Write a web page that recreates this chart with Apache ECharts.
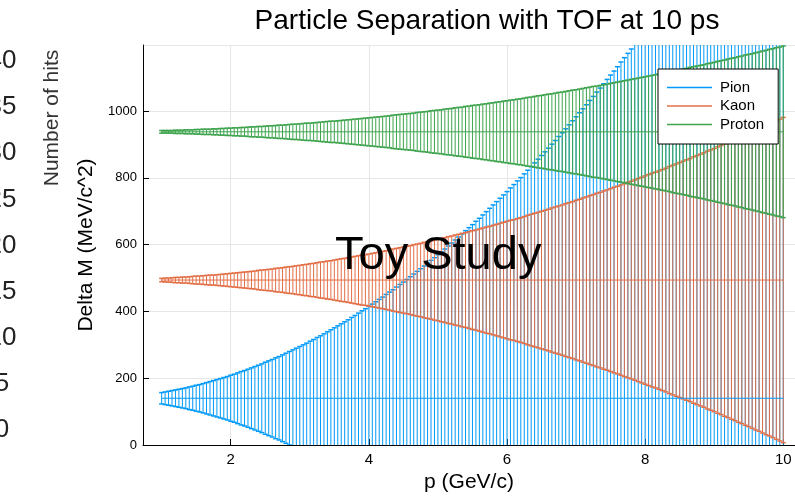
<!DOCTYPE html>
<html>
<head>
<meta charset="utf-8">
<script src="https://cdn.jsdelivr.net/npm/echarts@6/dist/echarts.min.js"></script>
<style>
  html, body { margin: 0; padding: 0; background: #fff; }
  #chart { width: 795px; height: 498px; }
</style>
</head>
<body>
<div id="chart"></div>
<script>
// momentum points (GeV/c)
const pVals = [
  1, 1.05, 1.1, 1.15, 1.2, 1.25, 1.3, 1.35, 1.4, 1.45, 1.5, 1.55, 1.6, 1.65, 1.7, 1.75, 1.8, 1.85, 1.9, 1.95,
  2, 2.05, 2.1, 2.15, 2.2, 2.25, 2.3, 2.35, 2.4, 2.45, 2.5, 2.55, 2.6, 2.65, 2.7, 2.75, 2.8, 2.85, 2.9, 2.95,
  3, 3.05, 3.1, 3.15, 3.2, 3.25, 3.3, 3.35, 3.4, 3.45, 3.5, 3.55, 3.6, 3.65, 3.7, 3.75, 3.8, 3.85, 3.9, 3.95,
  4, 4.05, 4.1, 4.15, 4.2, 4.25, 4.3, 4.35, 4.4, 4.45, 4.5, 4.55, 4.6, 4.65, 4.7, 4.75, 4.8, 4.85, 4.9, 4.95,
  5, 5.05, 5.1, 5.15, 5.2, 5.25, 5.3, 5.35, 5.4, 5.45, 5.5, 5.55, 5.6, 5.65, 5.7, 5.75, 5.8, 5.85, 5.9, 5.95,
  6, 6.05, 6.1, 6.15, 6.2, 6.25, 6.3, 6.35, 6.4, 6.45, 6.5, 6.55, 6.6, 6.65, 6.7, 6.75, 6.8, 6.85, 6.9, 6.95,
  7, 7.05, 7.1, 7.15, 7.2, 7.25, 7.3, 7.35, 7.4, 7.45, 7.5, 7.55, 7.6, 7.65, 7.7, 7.75, 7.8, 7.85, 7.9, 7.95,
  8, 8.05, 8.1, 8.15, 8.2, 8.25, 8.3, 8.35, 8.4, 8.45, 8.5, 8.55, 8.6, 8.65, 8.7, 8.75, 8.8, 8.85, 8.9, 8.95,
  9, 9.05, 9.1, 9.15, 9.2, 9.25, 9.3, 9.35, 9.4, 9.45, 9.5, 9.55, 9.6, 9.65, 9.7, 9.75, 9.8, 9.85, 9.9, 9.95,
  10
];

// half width of the error bar (MeV/c^2) at each p
const pionErr = [
  17, 19, 21, 23, 25, 27, 29, 31, 34, 36, 39, 41, 44, 47, 50, 53, 56, 59, 62, 65,
  69, 72, 76, 80, 83, 87, 91, 95, 99, 103, 108, 112, 116, 121, 125, 130, 135, 140, 145, 150,
  155, 160, 165, 171, 176, 182, 187, 193, 199, 205, 211, 217, 223, 229, 235, 242, 248, 255, 262, 268,
  275, 282, 289, 296, 303, 311, 318, 325, 333, 341, 348, 356, 364, 372, 380, 388, 396, 405, 413, 421,
  430, 439, 447, 456, 465, 474, 483, 492, 502, 511, 520, 530, 539, 549, 559, 569, 579, 589, 599, 609,
  619, 630, 640, 651, 661, 672, 683, 694, 705, 716, 727, 738, 749, 761, 772, 784, 795, 807, 819, 831,
  843, 855, 867, 879, 892, 904, 917, 929, 942, 955, 968, 980, 993, 1007, 1020, 1033, 1046, 1060, 1073, 1087,
  1101, 1115, 1128, 1142, 1157, 1171, 1185, 1199, 1214, 1228, 1243, 1257, 1272, 1287, 1302, 1317, 1332, 1347, 1362, 1378,
  1393, 1409, 1424, 1440, 1456, 1472, 1488, 1504, 1520, 1536, 1552, 1569, 1585, 1602, 1618, 1635, 1652, 1669, 1686, 1703,
  1720
];
const kaonErr = [
  5, 6, 6, 7, 8, 8, 9, 9, 10, 11, 12, 12, 13, 14, 15, 15, 16, 17, 18, 19,
  20, 21, 22, 23, 24, 25, 26, 27, 29, 30, 31, 32, 33, 35, 36, 37, 39, 40, 41, 43,
  44, 46, 47, 49, 50, 52, 54, 55, 57, 58, 60, 62, 64, 65, 67, 69, 71, 73, 75, 76,
  78, 80, 82, 84, 86, 88, 90, 93, 95, 97, 99, 101, 103, 106, 108, 110, 113, 115, 117, 120,
  122, 125, 127, 130, 132, 135, 137, 140, 142, 145, 148, 150, 153, 156, 159, 161, 164, 167, 170, 173,
  176, 179, 181, 184, 187, 190, 194, 197, 200, 203, 206, 209, 212, 216, 219, 222, 225, 229, 232, 235,
  239, 242, 246, 249, 253, 256, 260, 263, 267, 270, 274, 278, 281, 285, 289, 293, 296, 300, 304, 308,
  312, 316, 320, 323, 327, 331, 335, 340, 344, 348, 352, 356, 360, 364, 369, 373, 377, 381, 386, 390,
  394, 399, 403, 408, 412, 417, 421, 426, 430, 435, 439, 444, 449, 453, 458, 463, 467, 472, 477, 482,
  487
];
const protonErr = [
  4, 4, 4, 4, 5, 5, 5, 6, 6, 6, 7, 7, 8, 8, 8, 9, 9, 10, 10, 11,
  11, 12, 12, 13, 13, 14, 15, 15, 16, 16, 17, 18, 18, 19, 20, 20, 21, 22, 23, 23,
  24, 25, 26, 26, 27, 28, 29, 30, 31, 32, 32, 33, 34, 35, 36, 37, 38, 39, 40, 41,
  42, 43, 44, 45, 46, 47, 48, 50, 51, 52, 53, 54, 55, 56, 58, 59, 60, 61, 63, 64,
  65, 66, 68, 69, 70, 72, 73, 74, 76, 77, 79, 80, 81, 83, 84, 86, 87, 89, 90, 92,
  93, 95, 96, 98, 99, 101, 103, 104, 106, 108, 109, 111, 113, 114, 116, 118, 119, 121, 123, 125,
  126, 128, 130, 132, 134, 136, 137, 139, 141, 143, 145, 147, 149, 151, 153, 155, 157, 159, 161, 163,
  165, 167, 169, 171, 173, 175, 177, 179, 182, 184, 186, 188, 190, 193, 195, 197, 199, 201, 204, 206,
  208, 211, 213, 215, 218, 220, 222, 225, 227, 230, 232, 234, 237, 239, 242, 244, 247, 249, 252, 254,
  257
];

const particles = ['Pion', 'Kaon', 'Proton'];
const masses = [140, 494, 938];
const particleErrs = [pionErr, kaonErr, protonErr];
const colors = ['#009AFA', '#E36F47', '#3EA44E'];
const xTicks = [2, 4, 6, 8, 10];

const FONT = 'Liberation Sans, Arial, sans-serif';

function errorBarRenderer(color) {
    return function (params, api) {
        const p = api.value(0);
        const m = api.value(1);
        const e = api.value(2);
        const top = api.coord([p, m + e]);
        const bot = api.coord([p, m - e]);
        const hw = 2.5;
        return {
            type: 'group',
            children: [
                { type: 'line', shape: { x1: top[0], y1: top[1], x2: bot[0], y2: bot[1] }, style: { stroke: color, lineWidth: 1 } },
                { type: 'line', shape: { x1: top[0] - hw, y1: top[1], x2: top[0] + hw, y2: top[1] }, style: { stroke: color, lineWidth: 1.5 } },
                { type: 'line', shape: { x1: bot[0] - hw, y1: bot[1], x2: bot[0] + hw, y2: bot[1] }, style: { stroke: color, lineWidth: 1.5 } },
            ],
        };
    };
}

const lineSeries = particles.map((name, i) => ({
    name: name,
    type: 'line',
    data: pVals.map((p) => [p, masses[i]]),
    symbol: 'none',
    showSymbol: false,
    color: colors[i],
    lineStyle: { color: colors[i], width: 1 },
    z: 3,
    animation: false,
}));

const barSeries = particles.map((name, i) => ({
    name: name,
    type: 'custom',
    data: pVals.map((p, k) => [p, masses[i], particleErrs[i][k]]),
    encode: { x: 0, y: 1 },
    renderItem: errorBarRenderer(colors[i]),
    clip: true,
    z: 2,
    animation: false,
}));

const chart = echarts.init(document.getElementById('chart'));
chart.setOption({
    backgroundColor: '#fff',
    animation: false,
    textStyle: { fontFamily: FONT },
    grid: [
        { left: 143, top: 45, width: 652, height: 400 },
        { left: 1, top: 61, width: 10, height: 369 },
    ],
    legend: {
        data: particles.map((name, i) => ({ name: name, icon: 'rect', itemStyle: { color: colors[i] } })),
        orient: 'vertical',
        left: 658,
        top: 69,
        backgroundColor: '#fff',
        borderColor: '#000',
        borderWidth: 1,
        borderRadius: 0,
        padding: [11, 14, 12, 9],
        itemGap: 3.5,
        itemWidth: 45,
        itemHeight: 1.5,
        textStyle: { fontSize: 15, lineHeight: 15, color: '#000', fontFamily: FONT, padding: [0, 0, 0, 3] },
    },
    xAxis: [
        {
            type: 'value',
            gridIndex: 0,
            min: 0.73,
            max: 10.17,
            name: 'p (GeV/c)',
            nameLocation: 'middle',
            nameGap: 26,
            nameTextStyle: { fontSize: 21, color: '#000', fontFamily: FONT },
            axisLine: { show: true, onZero: false, lineStyle: { color: '#000', width: 1 } },
            axisTick: { show: true, inside: true, length: 6, customValues: xTicks, lineStyle: { color: '#000' } },
            axisLabel: { customValues: xTicks, fontSize: 15, color: '#000', margin: 7, fontFamily: FONT },
            splitLine: { show: true, lineStyle: { color: '#e6e6e6', width: 1 } },
        },
        { type: 'value', gridIndex: 1, min: 0, max: 1, show: false },
    ],
    yAxis: [
        {
            type: 'value',
            gridIndex: 0,
            min: 0,
            max: 1198,
            interval: 200,
            name: 'Delta M (MeV/c^2)',
            nameLocation: 'middle',
            nameGap: 39,
            nameTextStyle: { fontSize: 21, color: '#000', fontFamily: FONT },
            axisLine: { show: true, onZero: false, lineStyle: { color: '#000', width: 1 } },
            axisTick: { show: true, inside: true, length: 6, lineStyle: { color: '#000' } },
            axisLabel: {
                fontSize: 13, color: '#000', margin: 6, fontFamily: FONT, showMaxLabel: false,
                formatter: (v) => (v > 1000 ? '' : String(v)),
            },
            splitLine: { show: true, lineStyle: { color: '#e6e6e6', width: 1 } },
        },
        {
            type: 'value',
            gridIndex: 1,
            min: 0,
            max: 40,
            interval: 5,
            axisLine: { show: false },
            axisTick: { show: false },
            splitLine: { show: false },
            axisLabel: { align: 'center', margin: 9, fontSize: 26, color: '#222', fontFamily: FONT },
        },
    ],
    graphic: [
        {
            type: 'text',
            x: 487, y: 21,
            style: { text: 'Particle Separation with TOF at 10 ps', font: '28px ' + FONT, fill: '#000', textAlign: 'center', textVerticalAlign: 'middle' },
            z: 10,
        },
        {
            type: 'text',
            x: 52, y: 118,
            rotation: Math.PI / 2,
            style: { text: 'Number of hits', font: '21px ' + FONT, fill: '#333', textAlign: 'center', textVerticalAlign: 'middle' },
            z: 10,
        },
        {
            type: 'text',
            x: 335, y: 256,
            style: { text: 'Toy Study', font: '47px ' + FONT, fill: '#000', textAlign: 'left', textVerticalAlign: 'middle' },
            z: 100,
        },
    ],
    series: lineSeries.concat(barSeries),
});
</script>
</body>
</html>
